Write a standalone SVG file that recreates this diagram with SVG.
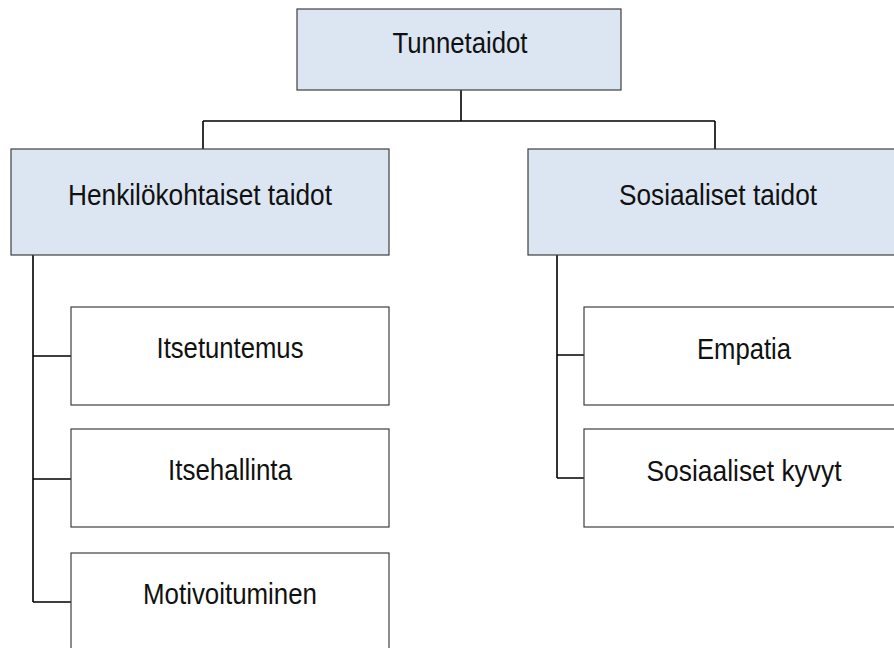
<svg xmlns="http://www.w3.org/2000/svg" width="894" height="648" viewBox="0 0 894 648">
  <style>
    .box { stroke: #3f3f3f; stroke-width: 1.2; }
    .head { fill: #dce6f2; }
    .leaf { fill: #ffffff; }
    .lbl { font-family: "Liberation Sans", Arial, sans-serif; font-size: 30px; fill: #111111; text-anchor: middle; }
    .wire { fill: none; stroke: #000000; stroke-width: 1.6; }
  </style>
  <rect width="894" height="648" fill="#ffffff"/>

  <!-- connectors -->
  <g id="connectors">
    <path class="wire" d="M461 90 V121 M203 121 H715 M203 121 V149 M715 121 V149"/>
    <path class="wire" d="M33 255 V602 M33 356 H71 M33 479 H71 M33 602 H71"/>
    <path class="wire" d="M557 255 V478 M557 355 H584 M557 478 H584"/>
  </g>

  <g id="tunnetaidot">
    <rect class="box head" x="297" y="9" width="324" height="81"/>
    <text class="lbl" x="460" y="53" textLength="135" lengthAdjust="spacingAndGlyphs">Tunnetaidot</text>
  </g>

  <g id="henkilokohtaiset">
    <rect class="box head" x="11" y="149" width="378" height="106"/>
    <text class="lbl" x="200" y="205" textLength="264" lengthAdjust="spacingAndGlyphs">Henkilökohtaiset taidot</text>
  </g>

  <g id="sosiaaliset">
    <rect class="box head" x="528" y="149" width="378" height="106"/>
    <text class="lbl" x="718" y="205" textLength="198" lengthAdjust="spacingAndGlyphs">Sosiaaliset taidot</text>
  </g>

  <g id="itsetuntemus">
    <rect class="box leaf" x="71" y="307" width="318" height="98"/>
    <text class="lbl" x="230" y="358" textLength="147" lengthAdjust="spacingAndGlyphs">Itsetuntemus</text>
  </g>

  <g id="itsehallinta">
    <rect class="box leaf" x="71" y="429" width="318" height="98"/>
    <text class="lbl" x="230" y="480" textLength="124" lengthAdjust="spacingAndGlyphs">Itsehallinta</text>
  </g>

  <g id="motivoituminen">
    <rect class="box leaf" x="71" y="553" width="318" height="98"/>
    <text class="lbl" x="230" y="604" textLength="174" lengthAdjust="spacingAndGlyphs">Motivoituminen</text>
  </g>

  <g id="empatia">
    <rect class="box leaf" x="584" y="307" width="318" height="98"/>
    <text class="lbl" x="744" y="359" textLength="94" lengthAdjust="spacingAndGlyphs">Empatia</text>
  </g>

  <g id="sosiaaliset-kyvyt">
    <rect class="box leaf" x="584" y="429" width="318" height="98"/>
    <text class="lbl" x="744" y="481" textLength="195" lengthAdjust="spacingAndGlyphs">Sosiaaliset kyvyt</text>
  </g>
</svg>
